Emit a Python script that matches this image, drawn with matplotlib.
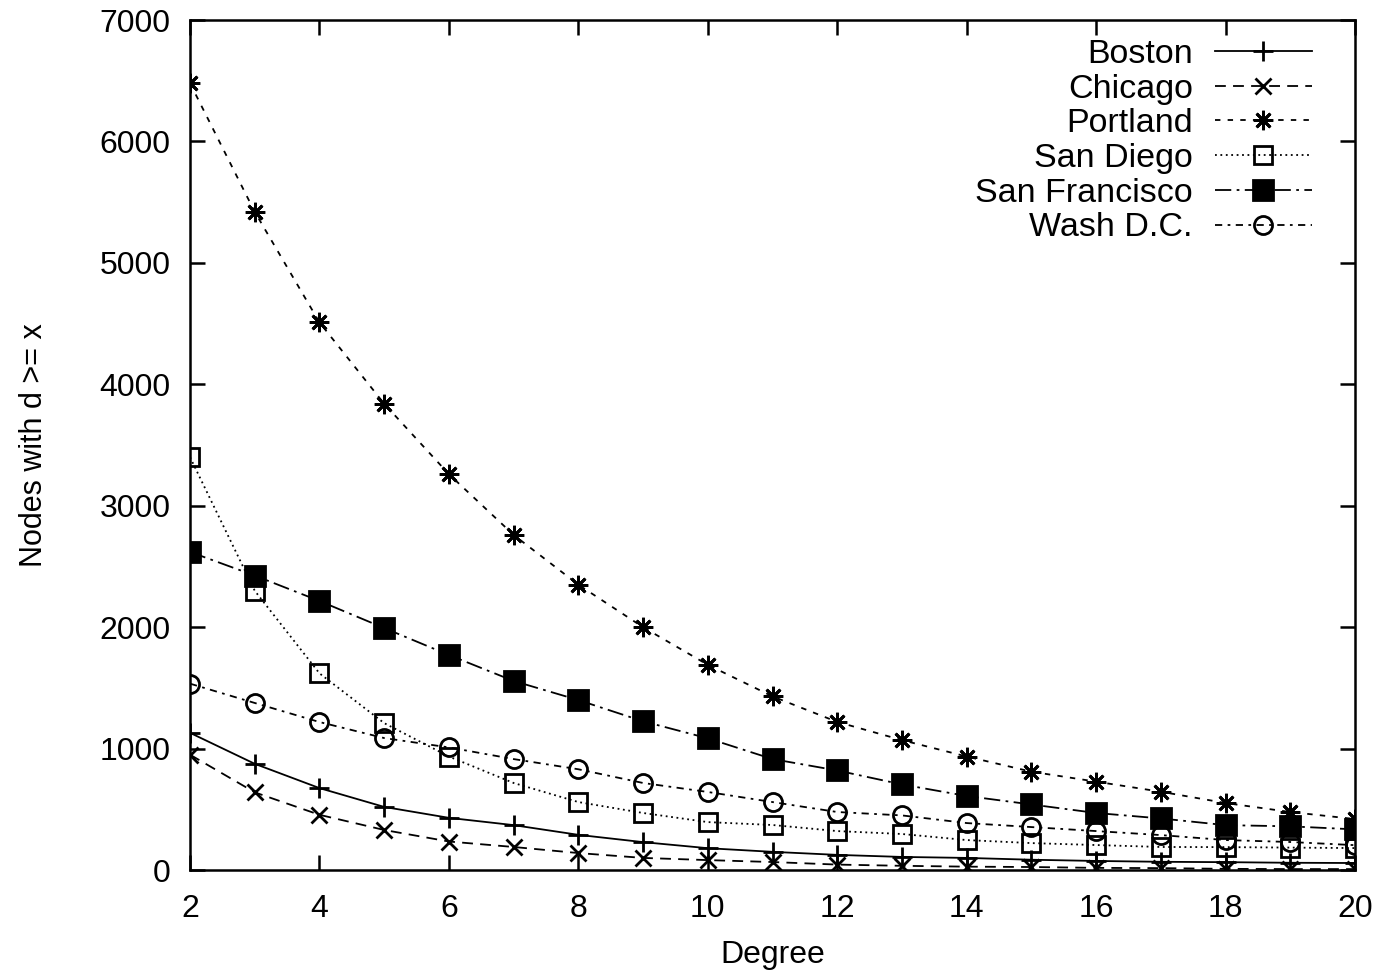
import matplotlib.pyplot as plt

plt.rcParams['font.family'] = ['Liberation Sans', 'DejaVu Sans']

# degree values on the x axis
degree = list(range(2, 21))

# nodes with degree >= x
boston = [1130, 875, 675, 520, 430, 370, 290, 230, 180, 150, 125, 108, 100, 85, 75, 68, 65, 60, 58]
chicago = [950, 640, 455, 330, 235, 190, 140, 100, 82, 66, 45, 35, 28, 25, 18, 16, 10, 8, 8]
portland = [6480, 5420, 4510, 3840, 3260, 2760, 2350, 2000, 1690, 1430, 1220, 1070, 935, 810, 728, 645, 552, 478, 420]
san_diego = [3400, 2300, 1620, 1210, 935, 717, 560, 470, 395, 371, 321, 297, 247, 222, 206, 190, 189, 185, 181]
san_francisco = [2620, 2425, 2216, 1993, 1771, 1557, 1400, 1225, 1085, 914, 820, 705, 610, 540, 470, 425, 370, 360, 335]
wash_dc = [1535, 1376, 1219, 1087, 1010, 914, 830, 717, 643, 560, 478, 450, 387, 354, 321, 288, 247, 231, 205]

series = [
    ("Boston", boston, '-', '+', 'k', 14),
    ("Chicago", chicago, (0, (6, 4)), 'x', 'k', 12),
    ("Portland", portland, (0, (3, 4)), (8, 2, 0), 'k', 14),
    ("San Diego", san_diego, (0, (1, 2)), 's', 'none', 13),
    ("San Francisco", san_francisco, (0, (9, 3, 1.5, 3)), 's', 'k', 14),
    ("Wash D.C.", wash_dc, (0, (4, 3, 1.5, 3)), 'o', 'none', 13),
]

fig = plt.figure(figsize=(13.81, 9.73), dpi=100)
ax = fig.add_axes([0.1376, 0.1058, 0.8436, 0.8736])

for name, vals, ls, mk, fc, ms in series:
    ax.plot(degree, vals, color='black', linestyle=ls, linewidth=1.3,
            marker=mk, markersize=ms, markerfacecolor=fc,
            markeredgecolor='black', markeredgewidth=2, label=name)

ax.set_xlim(2, 20)
ax.set_ylim(0, 7000)
ax.set_xticks(range(2, 21, 2))
ax.set_yticks(range(0, 7001, 1000))
ax.tick_params(direction='in', length=11, width=1.8, labelsize=23,
               top=True, right=True)
ax.tick_params(axis='x', pad=17)
ax.tick_params(axis='y', pad=14)
for sp in ax.spines.values():
    sp.set_linewidth(1.8)

ax.set_xlabel("Degree", fontsize=23, labelpad=12)
ax.set_ylabel("Nodes with d >= x", fontsize=22, labelpad=36)

ax.legend(loc='upper right', frameon=False, markerfirst=False, fontsize=24.5,
          handlelength=2.85, handletextpad=0.65, labelspacing=0.11,
          borderaxespad=0.15, bbox_to_anchor=(0.979, 1.0))

plt.savefig("out.png", dpi=100)
